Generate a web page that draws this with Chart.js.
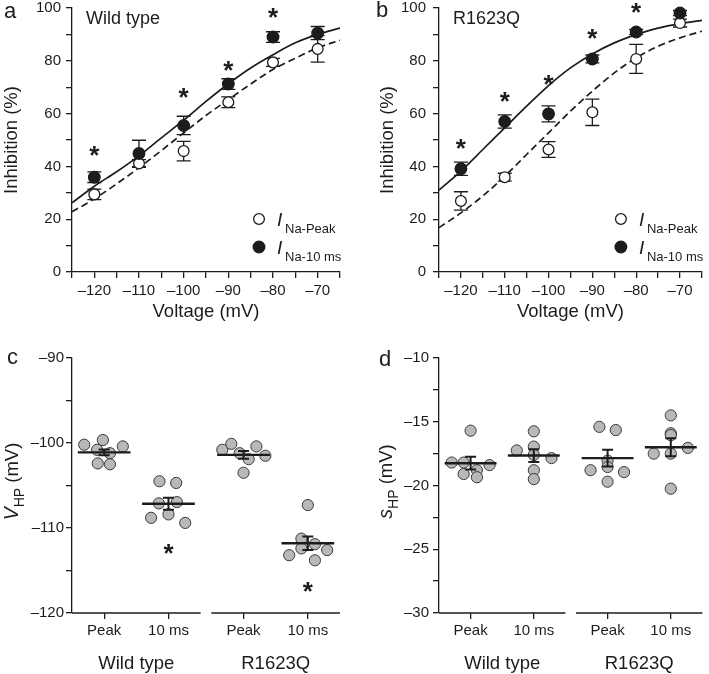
<!DOCTYPE html>
<html>
<head>
<meta charset="utf-8">
<title>Inhibition, V_HP and s_HP</title>
<script src="https://cdn.jsdelivr.net/npm/chart.js@4.4.1/dist/chart.umd.min.js"></script>
<style>
  html, body { margin: 0; padding: 0; background: #fff; }
  #fig { position: relative; width: 709px; height: 674px; overflow: hidden; }
  #fig canvas { position: absolute; }
</style>
</head>
<body>
<div id="fig">
  <canvas id="panelA" width="354" height="337" style="left:0;top:0"></canvas>
  <canvas id="panelB" width="355" height="337" style="left:354px;top:0"></canvas>
  <canvas id="panelC" width="354" height="337" style="left:0;top:337px"></canvas>
  <canvas id="panelD" width="355" height="337" style="left:354px;top:337px"></canvas>
</div>
<script>
// ---- panels a, b: inhibition vs voltage ----
const voltages = [-120, -110, -100, -90, -80, -70];
const wtPeak = [29.4, 41.1, 45.8, 64.3, 79.4, 84.5];
const wtPeakErr = [2, 1.5, 3.7, 2, 1.5, 5];
const wtTen = [35.9, 44.9, 55.5, 71.2, 89.0, 90.5];
const wtTenErr = [2, 5, 3.5, 2, 2, 2.5];
const wtStars = [45.8, null, 67.8, 78.2, 98, null];
const rqPeak = [26.9, 35.9, 46.4, 60.5, 80.7, 94.3];
const rqPeakErr = [3.5, 1.5, 3, 5, 5.5, 1.5];
const rqTen = [39.1, 57.0, 59.9, 80.7, 90.9, 98.1];
const rqTenErr = [2.5, 2.5, 3, 1.5, 1, 1];
const rqStars = [48.3, 66.2, 72.9, 90.3, 100, null];

// fitted curves
const fitV = [-125, -120, -115, -110, -105, -100, -95, -90, -85, -80, -75, -70, -65];
const wtFitTen = [26.2, 32.5, 38.0, 44.0, 50.8, 57.5, 64.6, 71.3, 77.3, 82.3, 86.8, 90.0, 92.4];
const wtFitPeak = [22.8, 27.7, 33.4, 39.5, 46.0, 52.7, 59.3, 65.3, 71.2, 76.7, 81.0, 84.9, 87.8];
const rqFitTen = [31.0, 38.2, 46.4, 54.6, 62.8, 70.6, 77.3, 82.6, 86.8, 89.9, 92.4, 94.1, 95.3];
const rqFitPeak = [16.8, 22.4, 28.8, 36.3, 44.5, 52.7, 60.9, 68.5, 75.4, 81.1, 85.5, 88.7, 91.2];

// ---- panels c, d: single cells ----
const groupX = [1, 2, 3.167, 4.167];
const groupTicks = ['Peak', '10 ms', 'Peak', '10 ms'];
const groupNames = ['Wild type', 'R1623Q'];

const vhpCells = [
  [-100.2, -99.65, -100.8, -101.2, -100.4, -102.4, -102.5],
  [-104.5, -104.7, -107.1, -106.95, -108.4, -108.8, -109.4],
  [-100.8, -100.1, -101.2, -101.9, -100.4, -101.5, -103.5],
  [-107.3, -111.25, -112.4, -111.9, -112.6, -113.2, -113.8]
];
const vhpJitter = [
  [-0.31, -0.02, -0.11, 0.09, 0.29, -0.10, 0.09],
  [-0.14, 0.12, -0.15, 0.13, 0, -0.27, 0.26],
  [-0.33, -0.19, -0.06, 0.08, 0.2, 0.34, 0],
  [0, -0.1, -0.1, 0.11, 0.3, -0.29, 0.11]
];
const vhpMean = [-101.1, -107.15, -101.4, -111.8];
const vhpSem = [0.35, 0.7, 0.45, 0.8];
const vhpStars = [null, -112.5, null, -116.9];

const shpCells = [
  [-15.7, -18.2, -18.2, -18.8, -19.1, -19.35, -18.4],
  [-15.75, -17.25, -16.95, -17.6, -17.85, -18.8, -19.5],
  [-15.4, -15.65, -18.05, -18.55, -18.8, -18.95, -19.7],
  [-14.5, -15.9, -16.05, -17.5, -17.5, -17.05, -20.25]
];
const shpJitter = [
  [0, -0.3, -0.11, 0.1, -0.11, 0.1, 0.3],
  [0, -0.27, 0, 0, 0.28, 0, 0],
  [-0.13, 0.13, 0, 0, -0.27, 0.26, 0],
  [0, 0, 0, -0.27, 0, 0.27, 0]
];
const shpMean = [-18.25, -17.65, -17.85, -17.0];
const shpSem = [0.5, 0.5, 0.65, 0.7];
const shpStars = [null, null, null, null];

const INK = '#1c1c1c';
const FONT = "'Liberation Sans', Arial, sans-serif";
const fnt = (size, italic, bold) => (italic ? 'italic ' : '') + (bold ? 'bold ' : '') + size + 'px ' + FONT;
const dash = v => v < 0 ? '\u2013' + Math.abs(v) : String(v);

Chart.defaults.font.family = FONT;
Chart.defaults.font.size = 15;
Chart.defaults.color = INK;

function rich(ctx, parts, x, y, angle) {
  ctx.save();
  ctx.translate(x, y);
  ctx.rotate(angle || 0);
  ctx.fillStyle = INK;
  ctx.textAlign = 'left';
  ctx.textBaseline = 'alphabetic';
  let w = 0;
  for (const p of parts) { ctx.font = fnt(p.size, p.italic); w += ctx.measureText(p.text).width; }
  let cx = -w / 2;
  for (const p of parts) {
    ctx.font = fnt(p.size, p.italic);
    ctx.fillText(p.text, cx, p.dy || 0);
    cx += ctx.measureText(p.text).width;
  }
  ctx.restore();
}

function plain(ctx, text, x, y, size, align) {
  ctx.save();
  ctx.fillStyle = INK;
  ctx.font = fnt(size);
  ctx.textAlign = align || 'left';
  ctx.textBaseline = 'alphabetic';
  ctx.fillText(text, x, y);
  ctx.restore();
}

function drawStar(ctx, px, py) {
  ctx.save();
  ctx.fillStyle = INK;
  ctx.font = fnt(26, false, true);
  ctx.textAlign = 'center';
  ctx.textBaseline = 'alphabetic';
  const m = ctx.measureText('*');
  ctx.fillText('*', px, py + (m.actualBoundingBoxAscent - m.actualBoundingBoxDescent) / 2);
  ctx.restore();
}

function fixedAxis(size, vertical) {
  return s => {
    if (vertical) s.width = size; else s.height = size;
    s.paddingTop = 0; s.paddingBottom = 0; s.paddingLeft = 0; s.paddingRight = 0;
  };
}

function errorBars(cap) {
  return {
    id: 'errorBars',
    beforeDatasetsDraw(chart) {
      const { ctx, scales: { x, y } } = chart;
      ctx.save();
      ctx.strokeStyle = INK;
      ctx.lineWidth = 1.3;
      chart.data.datasets.forEach(ds => {
        if (!ds.err) return;
        ds.data.forEach((p, i) => {
          const px = x.getPixelForValue(p.x);
          const y1 = y.getPixelForValue(p.y + ds.err[i]);
          const y2 = y.getPixelForValue(p.y - ds.err[i]);
          ctx.beginPath();
          ctx.moveTo(px, y1); ctx.lineTo(px, y2);
          ctx.moveTo(px - cap, y1); ctx.lineTo(px + cap, y1);
          ctx.moveTo(px - cap, y2); ctx.lineTo(px + cap, y2);
          ctx.stroke();
        });
      });
      ctx.restore();
    }
  };
}

function inhibitionPanel(id, p) {
  const fitLine = (vals, d) => ({
    type: 'line',
    data: fitV.map((v, i) => ({ x: v, y: vals[i] })),
    borderColor: INK, borderWidth: 1.7, borderDash: d, pointRadius: 0,
    cubicInterpolationMode: 'monotone', order: 3
  });
  const marks = (vals, err, fill, r, order) => ({
    type: 'scatter',
    data: voltages.map((v, i) => ({ x: v, y: vals[i] })),
    err: err,
    pointRadius: r, backgroundColor: fill, borderColor: INK, borderWidth: 1.3,
    clip: false, order: order
  });
  const decor = {
    id: 'decor',
    afterDraw(chart) {
      const { ctx, chartArea: ca, scales: { x, y } } = chart;
      p.stars.forEach((s, i) => {
        if (s !== null) drawStar(ctx, x.getPixelForValue(voltages[i]), y.getPixelForValue(s));
      });
      plain(ctx, p.letter, p.letterX, p.letterY, 22);
      plain(ctx, p.name, ca.left + 14, 23.5, 18);
      rich(ctx, [{ text: 'Inhibition (%)', size: 18.5 }], p.titleX, (ca.top + ca.bottom) / 2, -Math.PI / 2);
      rich(ctx, [{ text: 'Voltage (mV)', size: 18.5 }], (ca.left + ca.right) / 2, 317, 0);
      const lx = ca.right - 81;
      [[ca.bottom - 53, '#fff', 'Na-Peak', 5.4], [ca.bottom - 25, INK, 'Na-10 ms', 5.8]].forEach(([cy, fill, sub, r]) => {
        ctx.save();
        ctx.beginPath();
        ctx.arc(lx, cy, r, 0, 2 * Math.PI);
        ctx.fillStyle = fill; ctx.fill();
        ctx.lineWidth = 1.3; ctx.strokeStyle = INK; ctx.stroke();
        ctx.restore();
        ctx.save();
        ctx.fillStyle = INK;
        ctx.font = fnt(19, true);
        ctx.fillText('I', ca.right - 63, cy + 7);
        ctx.font = fnt(13);
        ctx.fillText(sub, ca.right - 55, cy + 13.5);
        ctx.restore();
      });
    }
  };
  new Chart(document.getElementById(id), {
    type: 'scatter',
    data: {
      datasets: [
        marks(p.ten, p.tenErr, INK, 5.8, 0),
        marks(p.peak, p.peakErr, '#fff', 5.4, 1),
        fitLine(p.fitTen, []),
        fitLine(p.fitPeak, [7, 4])
      ]
    },
    options: {
      responsive: false,
      animation: false,
      events: [],
      layout: { padding: { top: 8, right: p.padRight, left: 0, bottom: 0 } },
      plugins: { legend: { display: false }, tooltip: { enabled: false } },
      scales: {
        x: {
          type: 'linear', min: -125, max: -65,
          afterFit: fixedAxis(65, false),
          ticks: { stepSize: 5, autoSkip: false, maxRotation: 0, padding: 4, callback: v => v % 10 === 0 ? dash(v) : '' },
          grid: { drawOnChartArea: false, tickLength: 6, color: INK, lineWidth: 1.3 },
          border: { color: INK, width: 1.3 }
        },
        y: {
          type: 'linear', min: 0, max: 100,
          afterFit: fixedAxis(p.yWidth, true),
          ticks: { stepSize: 10, padding: p.yPad, callback: v => v % 20 === 0 ? dash(v) : '' },
          grid: { drawOnChartArea: false, tickLength: 6, color: INK, lineWidth: 1.3 },
          border: { color: INK, width: 1.3 }
        }
      }
    },
    plugins: [errorBars(7), decor]
  });
}

function cellsPanel(id, p) {
  const pts = [];
  p.cells.forEach((g, gi) => g.forEach((v, j) => pts.push({ x: groupX[gi] + p.jitter[gi][j], y: v })));
  const decor = {
    id: 'decor',
    afterDatasetsDraw(chart) {
      const { ctx, chartArea: ca, scales: { x, y } } = chart;
      ctx.save();
      ctx.strokeStyle = INK;
      // split x axis, one piece per genotype
      ctx.lineWidth = 1.3;
      [[groupX[0] - 0.5, groupX[1] + 0.5], [groupX[2] - 0.5, groupX[3] + 0.5]].forEach(([a, b]) => {
        ctx.beginPath();
        ctx.moveTo(x.getPixelForValue(a), ca.bottom);
        ctx.lineTo(x.getPixelForValue(b), ca.bottom);
        ctx.stroke();
      });
      // mean and SEM
      p.mean.forEach((m, i) => {
        const cx = x.getPixelForValue(groupX[i]);
        const my = y.getPixelForValue(m);
        ctx.lineWidth = 2.4;
        ctx.beginPath();
        ctx.moveTo(x.getPixelForValue(groupX[i] - 0.41), my);
        ctx.lineTo(x.getPixelForValue(groupX[i] + 0.41), my);
        ctx.stroke();
        const y1 = y.getPixelForValue(m + p.sem[i]);
        const y2 = y.getPixelForValue(m - p.sem[i]);
        ctx.lineWidth = 2;
        ctx.beginPath();
        ctx.moveTo(cx, y1); ctx.lineTo(cx, y2);
        ctx.moveTo(cx - 5.5, y1); ctx.lineTo(cx + 5.5, y1);
        ctx.moveTo(cx - 5.5, y2); ctx.lineTo(cx + 5.5, y2);
        ctx.stroke();
      });
      ctx.restore();
      p.stars.forEach((s, i) => {
        if (s !== null) drawStar(ctx, x.getPixelForValue(groupX[i]), y.getPixelForValue(s));
      });
    },
    afterDraw(chart) {
      const { ctx, chartArea: ca, scales: { x } } = chart;
      plain(ctx, p.letter, p.letterX, p.letterY, 22);
      rich(ctx, p.title, p.titleX, (ca.top + ca.bottom) / 2 - 4, -Math.PI / 2);
      groupNames.forEach((n, i) => {
        const cx = (x.getPixelForValue(groupX[2 * i]) + x.getPixelForValue(groupX[2 * i + 1])) / 2;
        plain(ctx, n, cx, 332, 18.5, 'center');
      });
    }
  };
  new Chart(document.getElementById(id), {
    type: 'scatter',
    data: {
      datasets: [{
        data: pts,
        pointRadius: 5.6, backgroundColor: '#b8b8b8', borderColor: '#3a3a3a', borderWidth: 1,
        clip: false
      }]
    },
    options: {
      responsive: false,
      animation: false,
      events: [],
      layout: { padding: { top: 21, right: p.padRight, left: 0, bottom: 0 } },
      plugins: { legend: { display: false }, tooltip: { enabled: false } },
      scales: {
        x: {
          type: 'linear', min: groupX[0] - 0.5, max: groupX[3] + 0.5,
          afterFit: fixedAxis(61, false),
          afterBuildTicks: s => { s.ticks = groupX.map(v => ({ value: v })); },
          ticks: { autoSkip: false, maxRotation: 0, padding: 3, callback: (v, i) => groupTicks[i] },
          grid: { drawOnChartArea: false, tickLength: 6, color: INK, lineWidth: 1.3 },
          border: { display: false }
        },
        y: {
          type: 'linear', min: p.min, max: p.max,
          afterFit: fixedAxis(p.yWidth, true),
          ticks: { stepSize: p.step, padding: p.yPad, callback: v => v % p.labelEvery === 0 ? dash(v) : '' },
          grid: { drawOnChartArea: false, tickLength: 6, color: INK, lineWidth: 1.3 },
          border: { color: INK, width: 1.3 }
        }
      }
    },
    plugins: [decor]
  });
}

inhibitionPanel('panelA', {
  peak: wtPeak, peakErr: wtPeakErr, ten: wtTen, tenErr: wtTenErr, stars: wtStars,
  fitPeak: wtFitPeak, fitTen: wtFitTen, name: 'Wild type',
  letter: 'a', letterX: 4, letterY: 18, titleX: 16.5, yWidth: 72, yPad: 5, padRight: 14
});
inhibitionPanel('panelB', {
  peak: rqPeak, peakErr: rqPeakErr, ten: rqTen, tenErr: rqTenErr, stars: rqStars,
  fitPeak: rqFitPeak, fitTen: rqFitTen, name: 'R1623Q',
  letter: 'b', letterX: 22, letterY: 17, titleX: 38.6, yWidth: 85, yPad: 7, padRight: 2
});
cellsPanel('panelC', {
  cells: vhpCells, jitter: vhpJitter, mean: vhpMean, sem: vhpSem, stars: vhpStars,
  min: -120, max: -90, step: 5, labelEvery: 10,
  title: [{ text: 'V', size: 19.5, italic: true }, { text: 'HP', size: 14, dy: 6 }, { text: ' (mV)', size: 18.5 }],
  letter: 'c', letterX: 7, letterY: 27, titleX: 18, yWidth: 72, yPad: 2, padRight: 14
});
cellsPanel('panelD', {
  cells: shpCells, jitter: shpJitter, mean: shpMean, sem: shpSem, stars: shpStars,
  min: -30, max: -10, step: 2.5, labelEvery: 5,
  title: [{ text: 's', size: 19.5, italic: true }, { text: 'HP', size: 14, dy: 6 }, { text: ' (mV)', size: 18.5 }],
  letter: 'd', letterX: 25, letterY: 29, titleX: 38, yWidth: 85, yPad: 4, padRight: 3
});
</script>
</body>
</html>
